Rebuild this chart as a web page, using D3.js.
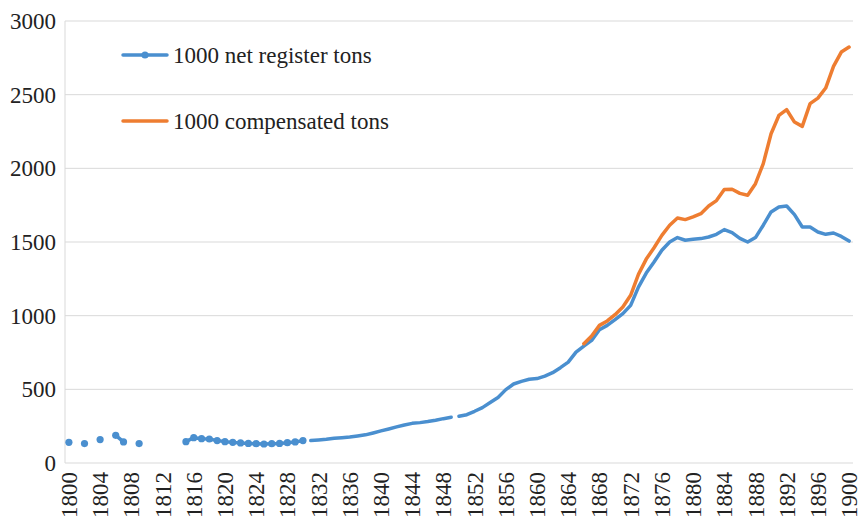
<!DOCTYPE html>
<html>
<head>
<meta charset="utf-8">
<script src="https://cdn.jsdelivr.net/npm/d3@7"></script>
<style>
  body { margin: 0; background: #fff; }
  svg { display: block; }
</style>
</head>
<body>
<svg id="chart" width="859" height="517" font-family="Liberation Serif"></svg>
<script>
// years 1800..1900
const years = d3.range(1800, 1901);

// net register tons, early dotted period (1800-1830), null = no data
const netEarly = {
    1800: 140, 1802: 132, 1804: 159, 1806: 188, 1807: 143, 1809: 132,
    1815: 145, 1816: 172, 1817: 165, 1818: 163, 1819: 152, 1820: 145,
    1821: 140, 1822: 136, 1823: 133, 1824: 131, 1825: 129, 1826: 131,
    1827: 133, 1828: 138, 1829: 143, 1830: 152
};

// 1831-1849
const netMid = [152, 156, 161, 168, 172, 177, 184, 191, 204, 218,
                231, 245, 258, 269, 274, 281, 290, 301, 310];

// 1850-1900
const netLate = [317, 328, 351, 376, 410, 444, 498, 536, 554, 568,
                 573, 590, 613, 647, 685, 753, 794, 832, 905, 934,
                 973, 1014, 1070, 1194, 1289, 1364, 1444, 1500, 1530, 1512,
                 1519, 1523, 1534, 1552, 1584, 1564, 1525, 1500, 1530, 1614,
                 1704, 1738, 1744, 1686, 1602, 1602, 1568, 1552, 1561, 1538,
                 1506];

// compensated tons 1866-1900
const compYears = d3.range(1866, 1901);
const compTons = [810, 862, 934, 964, 1007, 1059, 1138, 1280, 1384, 1461,
                  1545, 1614, 1663, 1652, 1670, 1692, 1744, 1781, 1856, 1858,
                  1830, 1817, 1896, 2032, 2235, 2359, 2398, 2314, 2285, 2439,
                  2477, 2545, 2692, 2789, 2823];

const yTicks = [0, 500, 1000, 1500, 2000, 2500, 3000];
const xTickYears = years.filter(y => (y - 1800) % 4 === 0);

const seriesNames = ["1000 net register tons", "1000 compensated tons"];
const blue = "#4a8fcf";
const orange = "#ee7d31";
const serif = "Liberation Serif";
const fontSize = "23px";

const svg = d3.select("#chart");
const margin = { top: 21, right: 6, bottom: 54, left: 65 };
const width = 859 - margin.left - margin.right;
const height = 517 - margin.top - margin.bottom;

const x = d3.scaleBand().domain(years).range([0, width]);
const cx = yr => x(yr) + x.bandwidth() / 2;
const y = d3.scaleLinear().domain([0, 3000]).range([height, 0]);

const g = svg.append("g").attr("transform", `translate(${margin.left},${margin.top})`);

// gridlines
g.append("g")
    .selectAll("line")
    .data(yTicks)
    .enter().append("line")
    .attr("x1", 0).attr("x2", width)
    .attr("y1", d => y(d)).attr("y2", d => y(d))
    .attr("stroke", "#d9d9d9")
    .attr("stroke-width", 1);

g.append("line")
    .attr("x1", 0).attr("x2", 0)
    .attr("y1", 0).attr("y2", height)
    .attr("stroke", "#d9d9d9");

// y labels
g.append("g")
    .selectAll("text")
    .data(yTicks)
    .enter().append("text")
    .attr("x", -9)
    .attr("y", d => y(d))
    .attr("dy", "0.35em")
    .attr("text-anchor", "end")
    .attr("font-family", serif)
    .attr("font-size", fontSize)
    .attr("fill", "#222")
    .text(d => d);

// x labels (rotated)
g.append("g")
    .selectAll("text")
    .data(xTickYears)
    .enter().append("text")
    .attr("transform", d => `translate(${cx(d)},${height + 9}) rotate(-90)`)
    .attr("dy", "0.35em")
    .attr("text-anchor", "end")
    .attr("font-family", serif)
    .attr("font-size", fontSize)
    .attr("fill", "#222")
    .text(d => d);

const line = d3.line()
    .defined(d => d.v != null)
    .x(d => cx(d.year))
    .y(d => y(d.v));

function drawLine(data, color) {
    g.append("path")
        .datum(data)
        .attr("fill", "none")
        .attr("stroke", color)
        .attr("stroke-width", 3.5)
        .attr("stroke-linejoin", "round")
        .attr("stroke-linecap", "round")
        .attr("d", line);
}

const earlyData = d3.range(1800, 1831).map(yr => ({ year: yr, v: netEarly[yr] ?? null }));
const midData = netMid.map((v, i) => ({ year: 1831 + i, v }));
const lateData = netLate.map((v, i) => ({ year: 1850 + i, v }));
const compData = compTons.map((v, i) => ({ year: compYears[i], v }));

drawLine(earlyData, blue);
drawLine(midData, blue);
drawLine(lateData, blue);
drawLine(compData, orange);

g.append("g")
    .selectAll("circle")
    .data(earlyData.filter(d => d.v != null))
    .enter().append("circle")
    .attr("cx", d => cx(d.year))
    .attr("cy", d => y(d.v))
    .attr("r", 3.6)
    .attr("fill", blue);

// legend
const legend = svg.append("g");
[blue, orange].forEach((c, i) => {
    const ly = 55 + i * 66;
    legend.append("line")
        .attr("x1", 123).attr("x2", 167)
        .attr("y1", ly).attr("y2", ly)
        .attr("stroke", c)
        .attr("stroke-width", 3.5)
        .attr("stroke-linecap", "round");
    if (i === 0) {
        legend.append("circle").attr("cx", 145).attr("cy", ly).attr("r", 3.6).attr("fill", c);
    }
    legend.append("text")
        .attr("x", 173)
        .attr("y", ly)
        .attr("dy", "0.35em")
        .attr("font-family", serif)
        .attr("font-size", fontSize)
        .attr("fill", "#222")
        .text(seriesNames[i]);
});
</script>
</body>
</html>
